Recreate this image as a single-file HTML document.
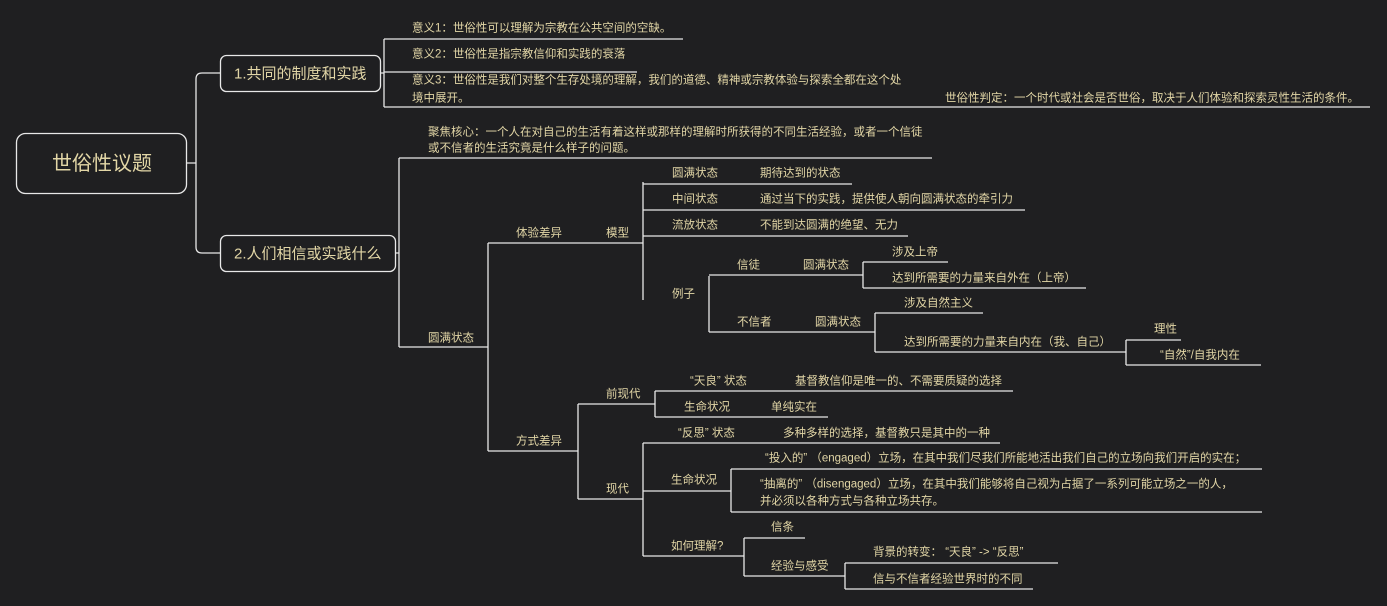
<!DOCTYPE html>
<html><head><meta charset="utf-8"><style>
html,body{margin:0;padding:0;background:#1f1f21;}
svg{display:block}
text{font-family:"Liberation Sans","Noto Sans CJK SC",sans-serif;font-size:11.5px;fill:#e2d6a6;dominant-baseline:middle}
</style></head><body>
<svg width="1387" height="606" viewBox="0 0 1387 606" xmlns="http://www.w3.org/2000/svg">
<rect width="1387" height="606" fill="#1f1f21"/>
<g stroke="#e8e8e8" stroke-width="1.3" fill="none">
<rect x="16.5" y="133.5" width="170" height="60" rx="9"/>
<rect x="220.5" y="55.5" width="160" height="36" rx="6"/>
<rect x="220.5" y="235.5" width="175" height="36" rx="6"/>
<path d="M186 163H196M220 73H202Q196 73 196 79V247Q196 253 202 253H220"/>
<path d="M380 73H384M384 39V107M384 39H683M384 72H637M384 107H1370"/>
<path d="M395 253H399M399 158V347M399 158H932M399 347H488"/>
<path d="M488 243V451M488 243H643M488 451H578"/>
<path d="M643 182V300M643 184H852M643 210H1025M643 236H908"/>
<path d="M709 276V332M709 275H863M709 332H875"/>
<path d="M863 262V288M863 262H948M863 288H1086"/>
<path d="M875 313V352M875 313H983M875 352H1126"/>
<path d="M1126 340V365M1126 340H1181M1126 365H1261"/>
<path d="M578 404V499M578 404H655M578 499H643"/>
<path d="M655 391V417M655 391H1013M655 417H828"/>
<path d="M643 443V556M643 443H1000M643 491H731M643 556H744"/>
<path d="M731 469V512M731 469H1262M731 512H1262"/>
<path d="M744 538V576M744 538H805M744 576H845"/>
<path d="M845 563V589M845 563H1058M845 589H1033"/>
</g>
<g transform="translate(0,1.5)">
<text x="102" y="163" text-anchor="middle" style="font-size:20px">世俗性议题</text>
<text x="234" y="73" style="font-size:15px">1.共同的制度和实践</text>
<text x="234" y="253" style="font-size:15px">2.人们相信或实践什么</text>
<text x="412" y="27">意义1：世俗性可以理解为宗教在公共空间的空缺。</text>
<text x="412" y="53">意义2：世俗性是指宗教信仰和实践的衰落</text>
<text x="412" y="79">意义3：世俗性是我们对整个生存处境的理解，我们的道德、精神或宗教体验与探索全都在这个处</text>
<text x="412" y="97">境中展开。</text>
<text x="945" y="97">世俗性判定：一个时代或社会是否世俗，取决于人们体验和探索灵性生活的条件。</text>
<text x="428" y="131">聚焦核心：一个人在对自己的生活有着这样或那样的理解时所获得的不同生活经验，或者一个信徒</text>
<text x="428" y="147">或不信者的生活究竟是什么样子的问题。</text>
<text x="428" y="337">圆满状态</text>
<text x="516" y="232">体验差异</text>
<text x="606" y="232">模型</text>
<text x="672" y="172">圆满状态</text><text x="760" y="172">期待达到的状态</text>
<text x="672" y="198">中间状态</text><text x="760" y="198">通过当下的实践，提供使人朝向圆满状态的牵引力</text>
<text x="672" y="224">流放状态</text><text x="760" y="224">不能到达圆满的绝望、无力</text>
<text x="672" y="293">例子</text>
<text x="737" y="264">信徒</text><text x="803" y="264">圆满状态</text>
<text x="892" y="251">涉及上帝</text>
<text x="892" y="277">达到所需要的力量来自外在（上帝）</text>
<text x="737" y="321">不信者</text><text x="815" y="321">圆满状态</text>
<text x="904" y="302">涉及自然主义</text>
<text x="904" y="341">达到所需要的力量来自内在（我、自己）</text>
<text x="1154" y="328">理性</text>
<text x="1160" y="354">“自然”/自我内在</text>
<text x="516" y="440">方式差异</text>
<text x="606" y="393">前现代</text>
<text x="690" y="380">“天良” 状态</text><text x="795" y="380">基督教信仰是唯一的、不需要质疑的选择</text>
<text x="684" y="406">生命状况</text><text x="771" y="406">单纯实在</text>
<text x="606" y="488">现代</text>
<text x="678" y="432">“反思” 状态</text><text x="783" y="432">多种多样的选择，基督教只是其中的一种</text>
<text x="671" y="479">生命状况</text>
<text x="765" y="457">“投入的” （engaged）立场，在其中我们尽我们所能地活出我们自己的立场向我们开启的实在；</text>
<text x="760" y="483">“抽离的” （disengaged）立场，在其中我们能够将自己视为占据了一系列可能立场之一的人，</text>
<text x="760" y="500">并必须以各种方式与各种立场共存。</text>
<text x="671" y="545">如何理解?</text>
<text x="771" y="526">信条</text>
<text x="771" y="565">经验与感受</text>
<text x="873" y="551">背景的转变： “天良” -&gt; “反思”</text>
<text x="873" y="578">信与不信者经验世界时的不同</text>
</g>
</svg>
</body></html>
